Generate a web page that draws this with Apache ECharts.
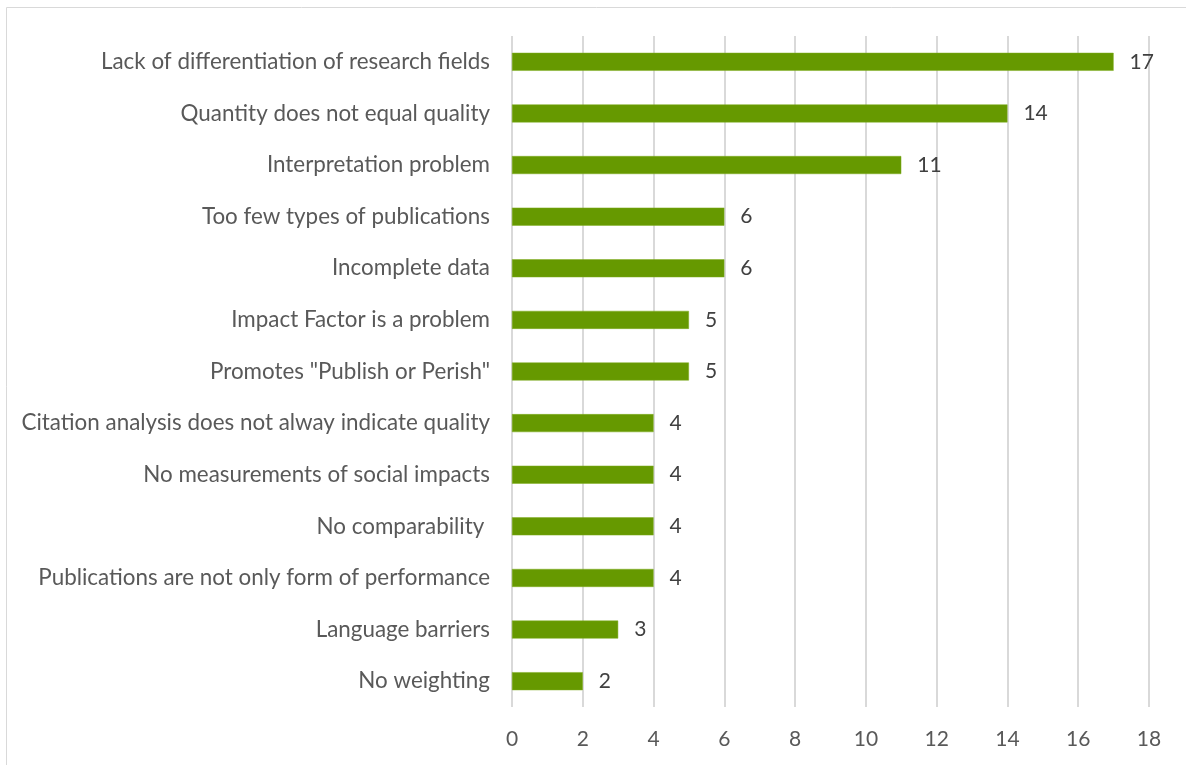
<!DOCTYPE html>
<html>
<head>
<meta charset="utf-8">
<script src="https://cdn.jsdelivr.net/npm/echarts@6/dist/echarts.min.js"></script>
<style>
  html, body { margin: 0; padding: 0; background: #fff; }
  #chart { width: 1186px; height: 765px; }
</style>
</head>
<body>
<div id="chart"></div>
<script>
// categories listed bottom to top (ECharts category y-axis starts at the bottom)
const categories = [
  'No weighting',
  'Language barriers',
  'Publications are not only form of performance',
  'No comparability ',
  'No measurements of social impacts',
  'Citation analysis does not alway indicate quality',
  'Promotes "Publish or Perish"',
  'Impact Factor is a problem',
  'Incomplete data',
  'Too few types of publications',
  'Interpretation problem',
  'Quantity does not equal quality',
  'Lack of differentiation of research fields'
]
const counts = [2, 3, 4, 4, 4, 4, 5, 5, 6, 6, 11, 14, 17]
const xTicks = [0, 2, 4, 6, 8, 10, 12, 14, 16, 18]

const font = 'Lato, "Open Sans", sans-serif'
const chart = echarts.init(document.getElementById('chart'))
chart.setOption({
  animation: false,
  graphic: [{
    type: 'rect',
    shape: { x: 6.5, y: 7.5, width: 1200, height: 800 },
    style: { fill: 'none', stroke: '#d9d9d9', lineWidth: 1 },
    silent: true
  }],
  grid: {
    top: 36,
    bottom: 58,
    left: 512,
    right: 37,
    containLabel: false
  },
  xAxis: {
    type: 'value',
    min: xTicks[0],
    max: xTicks[xTicks.length - 1],
    interval: 2,
    axisLine: { show: false },
    axisTick: { show: false },
    axisLabel: {
      margin: 22,
      color: '#595959',
      fontSize: 21,
      fontFamily: font
    },
    splitLine: { lineStyle: { color: '#d9d9d9', width: 2 } }
  },
  yAxis: {
    type: 'category',
    data: categories,
    axisLine: { show: false },
    axisTick: { show: false },
    axisLabel: {
      margin: 22,
      color: '#595959',
      fontSize: 22.4,
      fontFamily: font
    },
    splitLine: { show: false }
  },
  series: [{
    type: 'bar',
    data: counts,
    barWidth: 18,
    itemStyle: { color: '#669900', borderColor: '#7fad1f', borderWidth: 0.5 },
    label: {
      show: true,
      position: 'right',
      distance: 16,
      color: '#404040',
      fontSize: 21,
      fontFamily: font
    }
  }]
})
</script>
</body>
</html>
